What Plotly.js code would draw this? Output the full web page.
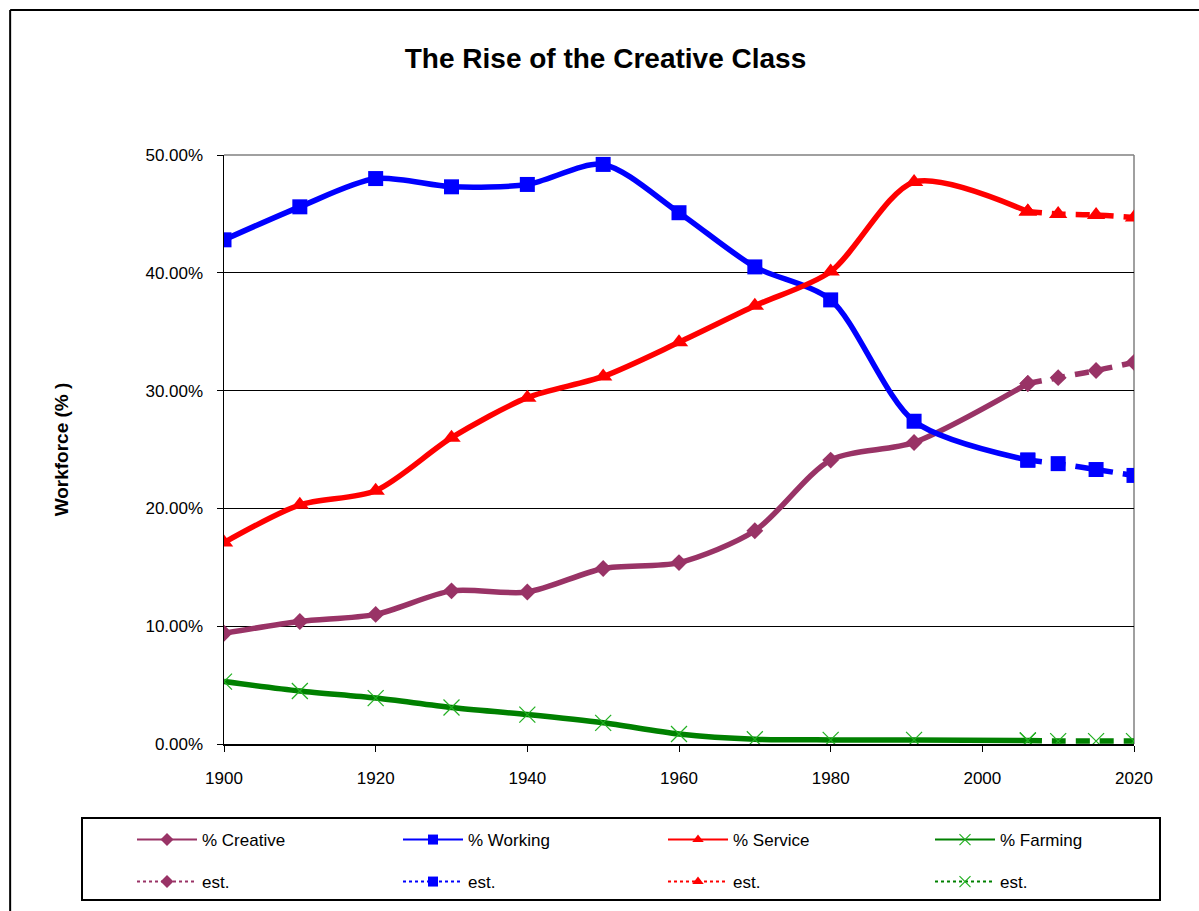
<!DOCTYPE html>
<html>
<head>
<meta charset="utf-8">
<script src="https://cdn.plot.ly/plotly-3.0.1.min.js"></script>
<style>html,body{margin:0;padding:0;background:#fff;}#chart{width:1199px;height:911px;}</style>
</head>
<body>
<div id="chart"></div>
<script>
// Data (percent of workforce)
var years = [1900, 1910, 1920, 1930, 1940, 1950, 1960, 1970, 1980, 1991, 2006];
var estYears = [2006, 2010, 2015, 2020];

var creative = [9.4, 10.4, 11.0, 13.0, 12.9, 14.9, 15.4, 18.1, 24.1, 25.6, 30.6];
var working  = [42.8, 45.6, 48.0, 47.3, 47.5, 49.2, 45.1, 40.5, 37.7, 27.4, 24.1];
var service  = [17.1, 20.3, 21.5, 26.0, 29.4, 31.2, 34.1, 37.2, 40.1, 47.7, 45.2];
var farming  = [5.3, 4.5, 3.9, 3.1, 2.5, 1.8, 0.85, 0.4, 0.35, 0.35, 0.3];

var creativeEst = [30.6, 31.1, 31.7, 32.4];
var workingEst  = [24.1, 23.8, 23.3, 22.8];
var serviceEst  = [45.2, 45.0, 44.9, 44.7];
var farmingEst  = [0.3, 0.25, 0.25, 0.25];

var seriesNames = ['% Creative', '% Working', '% Service', '% Farming'];
var estName = 'est.';
var yTicks = [0, 10, 20, 30, 40, 50];
var xTicks = [1900, 1920, 1940, 1960, 1980, 2000, 2020];

var colors = ['#993366', '#0000FF', '#FF0000', '#008000'];
var markerColors = ['#993366', '#0000FF', '#FF0000', '#22B022'];
var symbols = ['diamond', 'square', 'triangle-up', 'x-thin-open'];
var sizes = [13, 15, 16, 16];

var mainData = [creative, working, service, farming];
var estData = [creativeEst, workingEst, serviceEst, farmingEst];

function markerFor(i, legend) {
  var m = {symbol: symbols[i], color: markerColors[i], size: legend ? (i === 3 ? 11 : 10) : sizes[i]};
  if (i === 3) { m.line = {color: markerColors[i], width: 1.2}; }
  else { m.line = {width: 0}; }
  return m;
}

var traces = [];
for (var i = 0; i < 4; i++) {
  traces.push({
    type: 'scatter', mode: 'lines+markers', x: years, y: mainData[i],
    line: {color: colors[i], width: 5.5, shape: 'spline', smoothing: 0.8},
    marker: markerFor(i, false), showlegend: false, hoverinfo: 'x+y'
  });
}
for (var i = 0; i < 4; i++) {
  traces.push({
    type: 'scatter', mode: 'lines+markers', x: estYears, y: estData[i],
    line: {color: colors[i], width: 5.5, dash: '14px,10px', shape: 'spline'},
    marker: markerFor(i, false), showlegend: false, hoverinfo: 'x+y'
  });
}

var fontFam = 'Arial, "Liberation Sans", sans-serif';
var legendX = [132, 398, 663, 930];
var legendRowY = [840, 882];

var layout = {
  width: 1199, height: 911,
  margin: {l: 224, r: 65, t: 155, b: 167, autoexpand: false},
  paper_bgcolor: '#ffffff', plot_bgcolor: '#ffffff',
  font: {family: fontFam, size: 17, color: '#000'},
  title: {text: '<b>The Rise of the Creative Class</b>', font: {family: fontFam, size: 28, color: '#000'},
          xref: 'container', x: 0.505, xanchor: 'center', yref: 'container', y: 1 - 58 / 911, yanchor: 'middle'},
  xaxis: {
    range: [1900, 2020], tickvals: xTicks, ticktext: xTicks.map(String),
    showgrid: false, zeroline: false, showline: true, linecolor: '#000', linewidth: 1.5,
    ticks: 'outside', ticklen: 6, tickcolor: '#000', tickwidth: 1, ticklabelstandoff: 12,
    tickfont: {family: fontFam, size: 17, color: '#000'}, fixedrange: true, automargin: false
  },
  yaxis: {
    range: [0, 50], tickvals: yTicks, ticktext: yTicks.map(function (v) { return v.toFixed(2) + '%'; }),
    showgrid: true, gridcolor: '#000', gridwidth: 1, zeroline: false,
    showline: true, linecolor: '#000', linewidth: 1.5,
    ticks: 'outside', ticklen: 6, tickcolor: '#000', tickwidth: 1, ticklabelstandoff: 10,
    tickfont: {family: fontFam, size: 17, color: '#000'},
    title: {text: '<b>Workforce (% )</b>', font: {family: fontFam, size: 19, color: '#000'}, standoff: 72},
    fixedrange: true, automargin: false
  },
  shapes: [
    {type: 'line', xref: 'paper', yref: 'paper', x0: 0, x1: 1, y0: 1, y1: 1, line: {color: '#808080', width: 1.5}, layer: 'below'},
    {type: 'line', xref: 'paper', yref: 'paper', x0: 1, x1: 1, y0: 0, y1: 1, line: {color: '#808080', width: 1.5}, layer: 'below'},
    {type: 'rect', xref: 'paper', yref: 'paper', x0: (82 - 224) / 910, x1: (1160 - 224) / 910,
     y0: (744 - 900) / 589, y1: (744 - 818) / 589, line: {color: '#000', width: 2}, fillcolor: 'rgba(0,0,0,0)'},
    {type: 'line', xref: 'paper', yref: 'paper', x0: -0.235, x1: 1.2, y0: 1.246, y1: 1.246, line: {color: '#000', width: 2}},
    {type: 'line', xref: 'paper', yref: 'paper', x0: -0.235, x1: -0.235, y0: 1.246, y1: -0.4, line: {color: '#000', width: 2}}
  ],
  showlegend: true
};

// one legend per entry, laid out as 2 rows x 4 columns
var legIdx = 0;
for (var r = 0; r < 2; r++) {
  for (var i = 0; i < 4; i++) {
    legIdx++;
    var key = legIdx === 1 ? 'legend' : 'legend' + legIdx;
    layout[key] = {
      orientation: 'h', xref: 'container', yref: 'container',
      x: legendX[i] / 1199, xanchor: 'left', y: 1 - legendRowY[r] / 911, yanchor: 'middle',
      itemwidth: 60, borderwidth: 0, bgcolor: 'rgba(0,0,0,0)',
      font: {family: fontFam, size: 17, color: '#000'}, valign: 'middle'
    };
    traces.push({
      type: 'scatter', mode: 'lines+markers', x: [null], y: [null],
      name: r === 0 ? seriesNames[i] : estName,
      line: {color: colors[i], width: 2, dash: r === 0 ? 'solid' : 'dot'},
      marker: markerFor(i, true), showlegend: true, legend: key
    });
  }
}

Plotly.newPlot('chart', traces, layout, {displayModeBar: false, staticPlot: true});
</script>
</body>
</html>
